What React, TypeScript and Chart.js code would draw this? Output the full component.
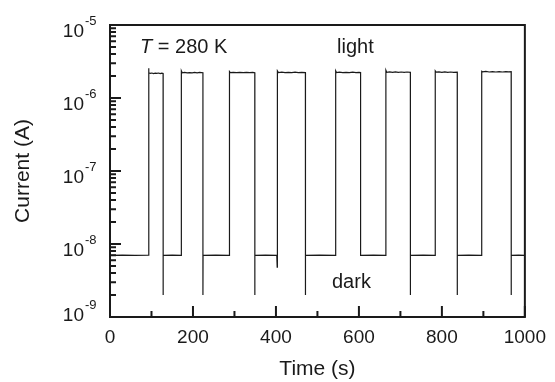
import React, { useEffect, useRef } from 'react';
import { Chart, registerables } from 'chart.js';

Chart.register(...registerables);

// Time (s) and current (A) of the photo-switching trace
const timeS: number[] = [
  0, 30, 60, 93,
  93, 94, 97, 101, 105, 109, 113, 117, 121, 125, 128,
  128, 128.3, 150, 172,
  172, 174, 180, 186, 192, 198, 204, 210, 216, 224,
  224, 224.3, 255, 288,
  288, 290, 297, 305, 313, 321, 329, 337, 344, 349,
  349, 349.3, 375, 402, 403,
  403.5, 406, 414, 422, 430, 438, 446, 454, 462, 471,
  471, 471.3, 505, 544,
  544, 546, 553, 561, 569, 577, 585, 593, 600, 604,
  604, 635, 665,
  665, 667, 674, 681, 688, 695, 702, 709, 716, 724,
  724, 724.3, 755, 784,
  784, 786, 793, 800, 807, 814, 821, 828, 837,
  837, 837.3, 865, 896,
  896, 898, 906, 914, 922, 930, 938, 946, 954, 961, 967,
  967, 967.3, 985, 1000,
];

const currentA: number[] = [
  7.0e-9, 7.05e-9, 7.0e-9, 7.05e-9,
  2.55e-6, 2.22e-6, 2.17e-6, 2.2e-6, 2.16e-6, 2.19e-6, 2.17e-6, 2.2e-6, 2.16e-6, 2.19e-6, 2.17e-6,
  2.0e-9, 7.0e-9, 7.05e-9, 7.0e-9,
  2.35e-6, 2.21e-6, 2.24e-6, 2.21e-6, 2.23e-6, 2.21e-6, 2.24e-6, 2.21e-6, 2.24e-6, 2.22e-6,
  2.0e-9, 7.0e-9, 7.05e-9, 7.0e-9,
  2.3e-6, 2.22e-6, 2.25e-6, 2.22e-6, 2.25e-6, 2.22e-6, 2.25e-6, 2.22e-6, 2.24e-6, 2.22e-6,
  2.0e-9, 7.0e-9, 7.05e-9, 7.0e-9, 4.8e-9,
  2.35e-6, 2.23e-6, 2.26e-6, 2.22e-6, 2.25e-6, 2.23e-6, 2.26e-6, 2.22e-6, 2.25e-6, 2.23e-6,
  2.0e-9, 7.0e-9, 7.05e-9, 7.0e-9,
  2.35e-6, 2.23e-6, 2.26e-6, 2.22e-6, 2.25e-6, 2.23e-6, 2.26e-6, 2.23e-6, 2.25e-6, 2.23e-6,
  7.0e-9, 7.05e-9, 7.0e-9,
  2.4e-6, 2.25e-6, 2.28e-6, 2.24e-6, 2.28e-6, 2.24e-6, 2.27e-6, 2.24e-6, 2.27e-6, 2.25e-6,
  2.0e-9, 7.0e-9, 7.05e-9, 7.0e-9,
  2.35e-6, 2.26e-6, 2.28e-6, 2.25e-6, 2.28e-6, 2.25e-6, 2.27e-6, 2.25e-6, 2.26e-6,
  2.0e-9, 7.0e-9, 7.05e-9, 7.0e-9,
  2.32e-6, 2.28e-6, 2.31e-6, 2.27e-6, 2.3e-6, 2.27e-6, 2.3e-6, 2.27e-6, 2.3e-6, 2.28e-6, 2.29e-6,
  2.0e-9, 7.0e-9, 7.05e-9, 7.0e-9,
];

const xMajorTicks: number[] = [0, 200, 400, 600, 800, 1000];
const xMinorTicks: number[] = [100, 300, 500, 700, 900];
const yDecadeExponents: number[] = [-9, -8, -7, -6, -5];
const yMinorMultipliers: number[] = [2, 3, 4, 5, 6, 7, 8, 9];

const xTitle = 'Time (s)';
const yTitle = 'Current (A)';
const tempSymbol = 'T';
const tempText = ' = 280 K';
const lightLabel = 'light';
const darkLabel = 'dark';

const FONT = '"Liberation Sans", Arial, Helvetica, sans-serif';
const INK = '#1a1a1a';

const framePlugin = {
  id: 'framePlugin',
  afterDraw(chart: any) {
    const { ctx, chartArea } = chart;
    const { left, right, top, bottom } = chartArea;
    const xs = chart.scales.x;
    const ys = chart.scales.y;
    ctx.save();
    ctx.strokeStyle = INK;
    ctx.lineWidth = 2;
    ctx.strokeRect(left, top, right - left, bottom - top);

    ctx.beginPath();
    xMajorTicks.forEach((v) => {
      const px = xs.getPixelForValue(v);
      ctx.moveTo(px, bottom);
      ctx.lineTo(px, bottom - 11);
    });
    xMinorTicks.forEach((v) => {
      const px = xs.getPixelForValue(v);
      ctx.moveTo(px, bottom);
      ctx.lineTo(px, bottom - 6);
    });
    yDecadeExponents.forEach((e, i) => {
      const py = ys.getPixelForValue(Math.pow(10, e));
      ctx.moveTo(left, py);
      ctx.lineTo(left + 11, py);
      if (i < yDecadeExponents.length - 1) {
        yMinorMultipliers.forEach((m) => {
          const pm = ys.getPixelForValue(m * Math.pow(10, e));
          ctx.moveTo(left, pm);
          ctx.lineTo(left + 6, pm);
        });
      }
    });
    ctx.stroke();

    // y tick labels with superscript exponents
    ctx.fillStyle = INK;
    yDecadeExponents.forEach((e, i) => {
      const py = ys.getPixelForValue(Math.pow(10, e));
      const dy = i === 0 ? 4 : 12;
      ctx.font = `19px ${FONT}`;
      ctx.textAlign = 'right';
      ctx.textBaseline = 'alphabetic';
      ctx.fillText('10', 84, py + dy);
      ctx.font = `13px ${FONT}`;
      ctx.textAlign = 'left';
      ctx.fillText(String(e), 85, py + dy - 12);
    });

    // annotations
    ctx.textAlign = 'left';
    ctx.textBaseline = 'alphabetic';
    ctx.font = `italic 20px ${FONT}`;
    ctx.fillText(tempSymbol, 140, 53);
    const tw = ctx.measureText(tempSymbol).width;
    ctx.font = `20px ${FONT}`;
    ctx.fillText(tempText, 140 + tw, 53);
    ctx.fillText(lightLabel, 337, 53);
    ctx.fillText(darkLabel, 332, 288);
    ctx.restore();
  },
};

export default function App() {
  const ref = useRef<HTMLCanvasElement | null>(null);

  useEffect(() => {
    if (!ref.current) return;
    const chart = new Chart(ref.current, {
      type: 'line',
      data: {
        datasets: [
          {
            data: timeS.map((t, i) => ({ x: t, y: currentA[i] })),
            borderColor: INK,
            borderWidth: 1.2,
            pointRadius: 0,
            tension: 0,
            fill: false,
          },
        ],
      },
      options: {
        animation: false,
        responsive: false,
        devicePixelRatio: 1,
        layout: { padding: { left: 0, right: 26, top: 25, bottom: 0 } },
        plugins: { legend: { display: false }, tooltip: { enabled: false } },
        scales: {
          x: {
            type: 'linear',
            min: 0,
            max: 1000,
            afterBuildTicks: (s: any) => {
              s.ticks = xMajorTicks.map((v) => ({ value: v }));
            },
            afterFit: (s: any) => {
              s.height = 65;
            },
            ticks: {
              font: { family: FONT, size: 19 },
              color: INK,
              padding: 9,
              maxRotation: 0,
              autoSkip: false,
              callback: (v: any) => String(v),
            },
            grid: { display: false, drawTicks: false },
            border: { display: false },
            title: {
              display: true,
              text: xTitle,
              color: INK,
              font: { family: FONT, size: 21 },
              padding: { top: 0, bottom: 0 },
            },
          },
          y: {
            type: 'logarithmic',
            min: 1e-9,
            max: 1e-5,
            afterFit: (s: any) => {
              s.width = 110;
            },
            ticks: { display: false },
            grid: { display: false, drawTicks: false },
            border: { display: false },
            title: {
              display: true,
              text: yTitle,
              color: INK,
              font: { family: FONT, size: 21 },
              padding: { top: 11, bottom: 0 },
            },
          },
        },
      },
      plugins: [framePlugin],
    } as any);
    return () => chart.destroy();
  }, []);

  return (
    <div style={{ position: 'absolute', left: 0, top: 0, width: 555, height: 382, background: '#fff' }}>
      <canvas ref={ref} width={555} height={382} style={{ display: 'block' }} />
    </div>
  );
}
